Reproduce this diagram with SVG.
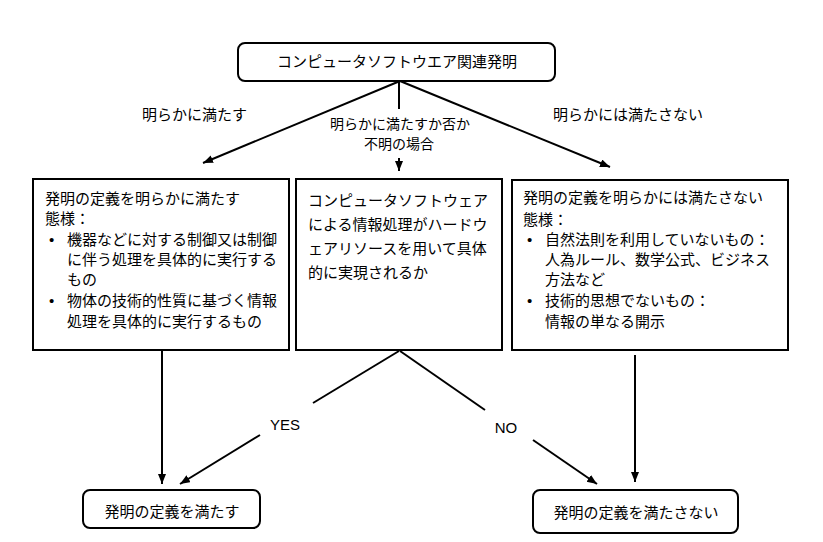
<svg xmlns="http://www.w3.org/2000/svg" width="823" height="542" viewBox="0 0 823 542">
<defs>
<marker id="ah" markerUnits="userSpaceOnUse" markerWidth="11" markerHeight="9" refX="10" refY="4" orient="auto">
<path d="M0,0 L10,4 L0,8 z" fill="#000"/>
</marker>
<style>
.box{fill:#fff;stroke:#000;stroke-width:2}
.t{font-family:"Noto Sans CJK JP","Noto Sans",sans-serif;font-size:15px;fill:#000}
.s{font-size:14px}
.e{font-family:"Liberation Sans",Arial,sans-serif;font-size:15px;fill:#000}
.c{stroke:#000;stroke-width:2;fill:none}
.a{marker-end:url(#ah)}
</style>
</defs>
<rect width="823" height="542" fill="#fff"/>
<g id="connectors">
<line class="c a" x1="400" y1="81" x2="203" y2="163"/>
<line class="c" x1="399" y1="81" x2="399" y2="109"/>
<line class="c a" x1="399" y1="158" x2="399" y2="171"/>
<line class="c a" x1="400" y1="81" x2="610" y2="167"/>
<line class="c a" x1="162" y1="351" x2="162" y2="484"/>
<line class="c" x1="399" y1="351" x2="313" y2="403"/>
<line class="c a" x1="260" y1="435" x2="180" y2="484"/>
<line class="c" x1="400" y1="351" x2="485" y2="410"/>
<line class="c a" x1="533" y1="440" x2="597" y2="484"/>
<line class="c a" x1="635" y1="355" x2="635" y2="482"/>
<text class="t" x="142" y="120">明らかに満たす</text>
<text class="t s" x="400" y="129" text-anchor="middle">明らかに満たすか否か</text>
<text class="t s" x="399" y="149" text-anchor="middle">不明の場合</text>
<text class="t" x="553" y="120">明らかには満たさない</text>
<text class="e" x="285" y="430" text-anchor="middle">YES</text>
<text class="e" x="506" y="433" text-anchor="middle">NO</text>
</g>
<g id="root">
<rect class="box" x="238" y="43" width="317" height="38" rx="7"/>
<text class="t" x="397" y="67" text-anchor="middle">コンピュータソフトウエア関連発明</text>
</g>
<g id="left">
<rect class="box" x="33" y="179" width="256" height="171"/>
<text class="t" x="45" y="204">発明の定義を明らかに満たす</text>
<text class="t" x="45" y="224">態様：</text>
<text class="e" x="49" y="245">•</text>
<text class="t" x="67" y="245">機器などに対する制御又は制御</text>
<text class="t" x="67" y="265">に伴う処理を具体的に実行する</text>
<text class="t" x="67" y="285">もの</text>
<text class="e" x="49" y="306">•</text>
<text class="t" x="67" y="306">物体の技術的性質に基づく情報</text>
<text class="t" x="67" y="327">処理を具体的に実行するもの</text>
</g>
<g id="middle">
<rect class="box" x="296" y="179" width="206" height="171"/>
<text class="t" x="308" y="206">コンピュータソフトウェア</text>
<text class="t" x="308" y="230">による情報処理がハードウ</text>
<text class="t" x="308" y="254">ェアリソースを用いて具体</text>
<text class="t" x="308" y="278">的に実現されるか</text>
</g>
<g id="right">
<rect class="box" x="512" y="180" width="276" height="170"/>
<text class="t" x="523" y="203">発明の定義を明らかには満たさない</text>
<text class="t" x="523" y="225">態様：</text>
<text class="e" x="527" y="245">•</text>
<text class="t" x="545" y="245">自然法則を利用していないもの：</text>
<text class="t" x="545" y="265">人為ルール、数学公式、ビジネス</text>
<text class="t" x="545" y="285">方法など</text>
<text class="e" x="527" y="306">•</text>
<text class="t" x="545" y="306">技術的思想でないもの：</text>
<text class="t" x="545" y="327">情報の単なる開示</text>
</g>
<g id="yes-result">
<rect class="box" x="83" y="490" width="177" height="38" rx="7"/>
<text class="t" x="172" y="517" text-anchor="middle">発明の定義を満たす</text>
</g>
<g id="no-result">
<rect class="box" x="533" y="490" width="205" height="43" rx="7"/>
<text class="t" x="636" y="518" text-anchor="middle">発明の定義を満たさない</text>
</g>
</svg>
